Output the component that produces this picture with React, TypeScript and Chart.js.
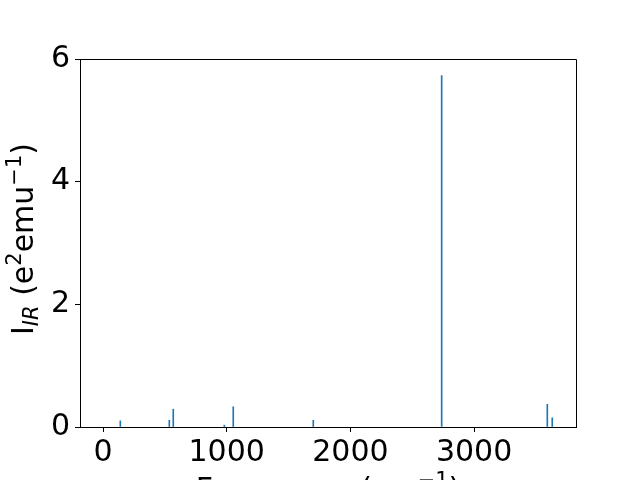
import React, { useEffect, useRef } from "react";
import { Chart, registerables } from "chart.js";

Chart.register(...registerables);

const frequencies = [140, 536, 568, 981, 1053, 1700, 2738, 3592, 3632];
const intensities = [0.1, 0.11, 0.29, 0.03, 0.33, 0.11, 5.73, 0.37, 0.15];
const xTicks = [0, 1000, 2000, 3000];
const yTicks = [0, 2, 4, 6];

const FONT = "'DejaVu Sans', sans-serif";

type Seg = { t: string; size: number; italic?: boolean; dy: number };

function drawSegs(ctx: CanvasRenderingContext2D, segs: Seg[], cx: number) {
  const setFont = (s: Seg) => {
    ctx.font = `${s.italic ? "italic " : ""}${s.size}px ${FONT}`;
  };
  let total = 0;
  for (const s of segs) {
    setFont(s);
    total += ctx.measureText(s.t).width;
  }
  let x = cx - total / 2;
  ctx.textAlign = "left";
  ctx.textBaseline = "alphabetic";
  for (const s of segs) {
    setFont(s);
    ctx.fillText(s.t, x, s.dy);
    x += ctx.measureText(s.t).width;
  }
}

const labelPlugin = {
  id: "labels",
  afterDraw(chart: any) {
    const ctx: CanvasRenderingContext2D = chart.ctx;
    const a = chart.chartArea;
    ctx.save();
    ctx.strokeStyle = "#000";
    ctx.lineWidth = 1;
    ctx.beginPath();
    ctx.moveTo(a.left, a.top + 0.5);
    ctx.lineTo(a.right + 0.5, a.top + 0.5);
    ctx.lineTo(a.right + 0.5, a.bottom);
    ctx.stroke();
    ctx.fillStyle = "#000";
    // y label
    ctx.save();
    ctx.translate(33, 0);
    ctx.rotate(-Math.PI / 2);
    drawSegs(
      ctx,
      [
        { t: "I", size: 30, dy: 0 },
        { t: "IR", size: 21, italic: true, dy: 5 },
        { t: " (e", size: 30, dy: 0 },
        { t: "2", size: 21, dy: -12 },
        { t: "emu", size: 30, dy: 0 },
        { t: "\u22121", size: 21, dy: -12 },
        { t: ")", size: 30, dy: 0 },
      ],
      -239
    );
    ctx.restore();
    // x label
    ctx.save();
    ctx.translate(0, 499);
    drawSegs(
      ctx,
      [
        { t: "Frequency (cm", size: 30, dy: 0 },
        { t: "\u22121", size: 21, dy: -12 },
        { t: ")", size: 30, dy: 0 },
      ],
      (a.left + a.right) / 2
    );
    ctx.restore();
    ctx.restore();
  },
};

export default function App() {
  const ref = useRef<HTMLCanvasElement>(null);
  useEffect(() => {
    document.body.style.margin = "0";
    const chart = new Chart(ref.current!, {
      type: "bar",
      data: {
        datasets: [
          {
            data: frequencies.map((f, i) => ({ x: f, y: intensities[i] })),
            backgroundColor: "#1f77b4",
            borderWidth: 0,
            barThickness: 1,
          },
        ],
      },
      options: {
        animation: false,
        responsive: false,
        layout: { padding: { top: 59, right: 64, left: 0, bottom: 0 } },
        plugins: { legend: { display: false }, tooltip: { enabled: false } },
        scales: {
          x: {
            type: "linear",
            min: -186,
            max: 3824,
            offset: false,
            afterBuildTicks: (s: any) => {
              s.ticks = xTicks.map((v) => ({ value: v }));
            },
            afterFit: (s: any) => {
              s.height = 53;
            },
            grid: {
              offset: false,
              drawOnChartArea: false,
              tickLength: 5,
              tickColor: "#000",
            },
            border: { color: "#000", width: 1 },
            ticks: {
              color: "#000",
              font: { family: FONT, size: 30 },
              padding: 3,
              maxRotation: 0,
              callback: (v: any) => String(v),
            },
          },
          y: {
            min: 0,
            max: 6,
            afterBuildTicks: (s: any) => {
              s.ticks = yTicks.map((v) => ({ value: v }));
            },
            afterFit: (s: any) => {
              s.width = 80;
            },
            grid: {
              offset: false,
              drawOnChartArea: false,
              tickLength: 5,
              tickColor: "#000",
            },
            border: { color: "#000", width: 1 },
            ticks: {
              color: "#000",
              font: { family: FONT, size: 30 },
              padding: 5,
              callback: (v: any) => String(v),
            },
          },
        },
      },
      plugins: [labelPlugin],
    });
    return () => chart.destroy();
  }, []);
  return (
    <div style={{ position: "fixed", left: 0, top: 0, width: 640, height: 480 }}>
      <canvas ref={ref} width={640} height={480} style={{ width: 640, height: 480 }} />
    </div>
  );
}
